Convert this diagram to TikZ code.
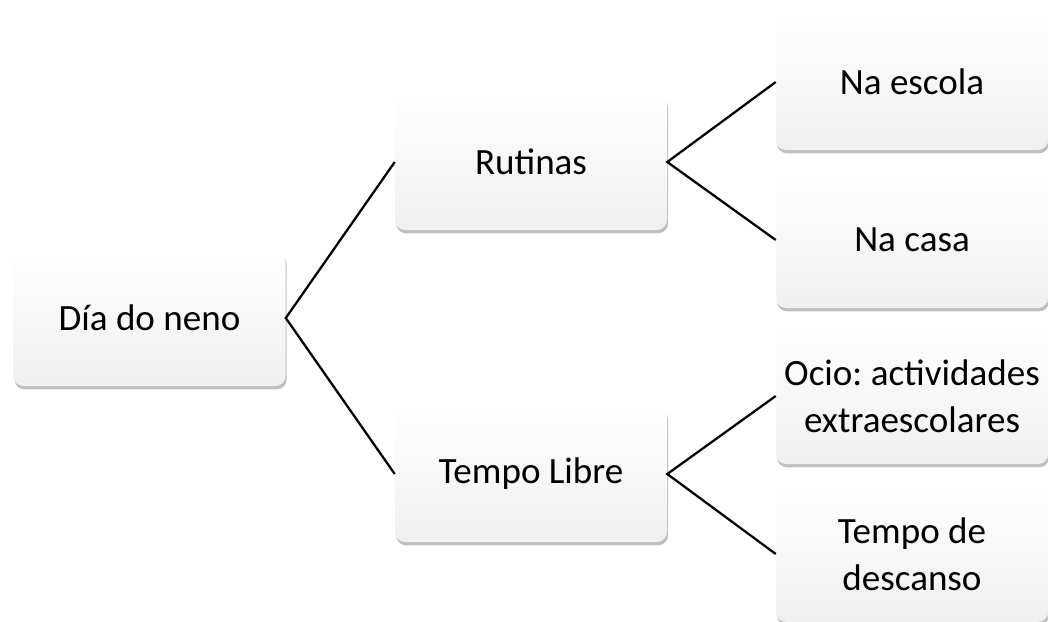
\documentclass[tikz,border=0pt]{standalone}
\usepackage{fontspec}
\setmainfont{Carlito}
\usetikzlibrary{shadows}

\begin{document}
\begin{tikzpicture}[
  x=0.75pt, y=-0.75pt,
  card/.style={rounded corners=7.5pt, minimum width=204pt, minimum height=102pt,
               inner sep=2pt, align=center, top color=white, bottom color=gray!12,
               font=\fontsize{27.8}{35}\selectfont\frenchspacing,
               drop shadow={shadow xshift=0.8pt, shadow yshift=-2.5pt, opacity=0.5, fill=gray}},
  link/.style={line width=1.7pt, black},
]
\useasboundingbox (0,0) rectangle (1048,621);

% Level 1
\node[card] (dia) at (149.5,318) {Día do neno};

% Level 2
\node[card] (rutinas) at (531,162) {Rutinas};
\node[card] (libre) at (531,474) {Tempo Libre};

% Level 3
\node[card] (escola) at (912,82) {Na escola};
\node[card] (casa) at (912,240) {Na casa};
\node[card] (ocio) at (912,396) {Ocio: actividades\\extraescolares};
\node[card] (descanso) at (912,554) {Tempo de\\descanso};

\draw[link] (rutinas.west) -- (dia.east) -- (libre.west);
\draw[link] (escola.west) -- (rutinas.east) -- (casa.west);
\draw[link] (ocio.west) -- (libre.east) -- (descanso.west);
\end{tikzpicture}
\end{document}
